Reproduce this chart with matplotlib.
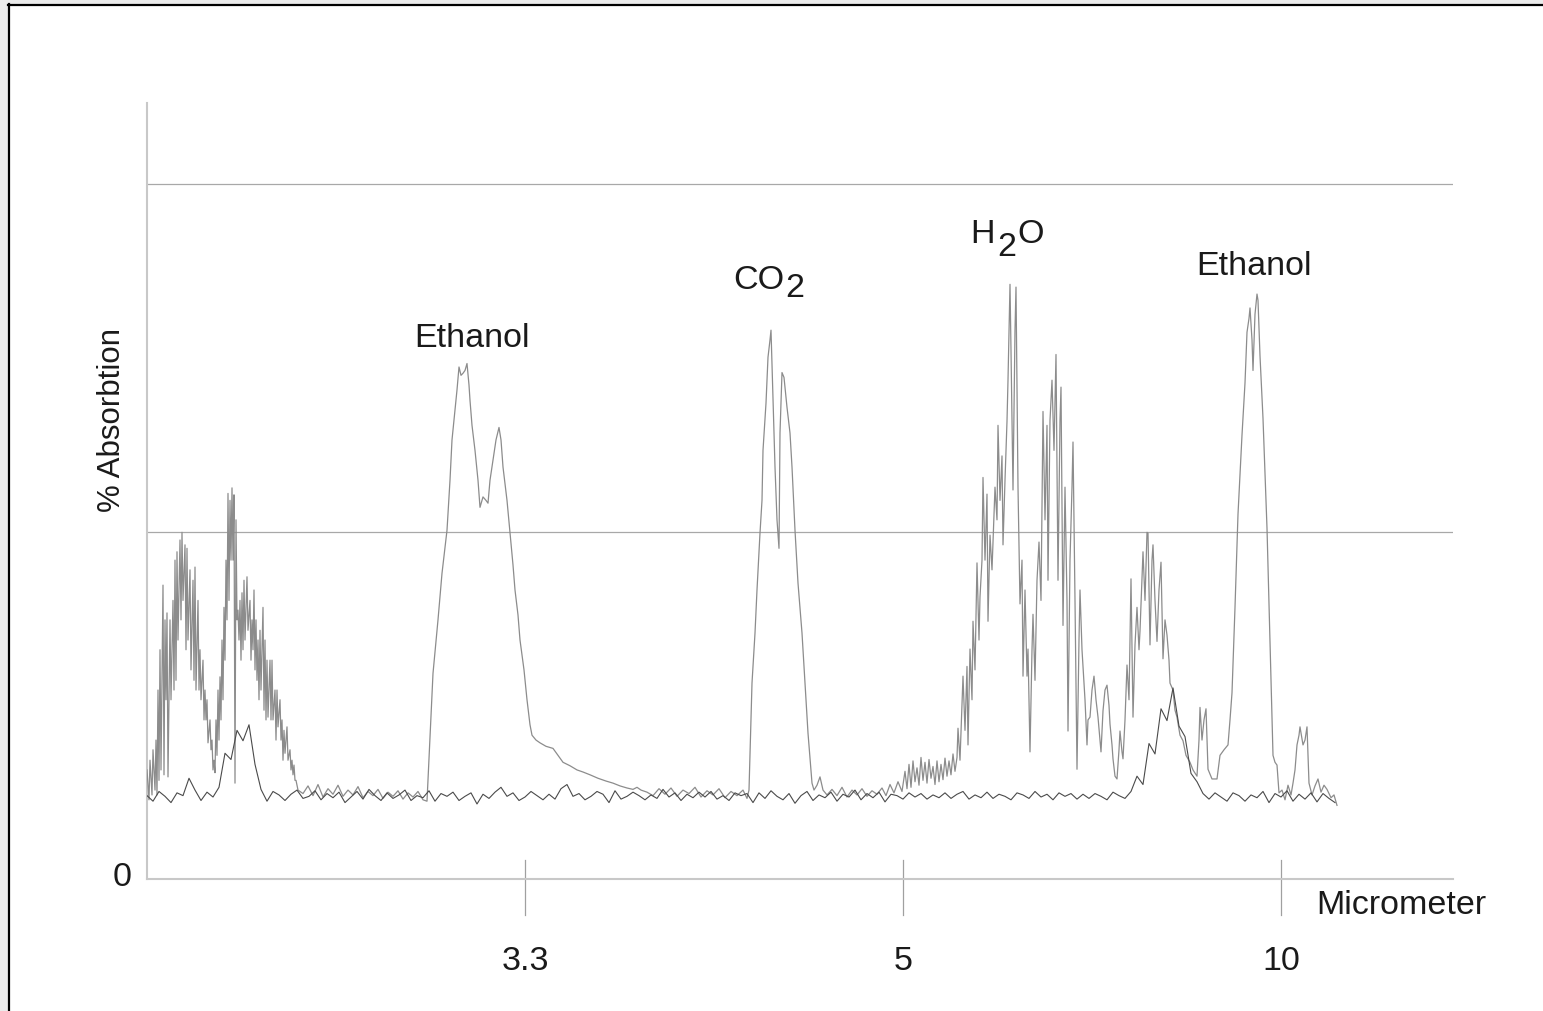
import matplotlib
matplotlib.use("Agg")
import matplotlib.pyplot as plt
from matplotlib.patches import Rectangle
from matplotlib.lines import Line2D
import matplotlib.transforms as mtransforms

plt.rcParams['font.family'] = ['Liberation Sans', 'DejaVu Sans']

# ---------------- data ----------------
# x axis: detector channel (0 .. 1306); wavelength labels at three channels
tick_channels = [378, 756, 1134]
tick_labels = ['3.3', '5', '10']
x_max = 1306
y_max = 111.7          # % absorption at top of the axis
grid_levels = [50, 100]

# background (reference) spectrum, one value every 6 channels
background_values = [
    12.0, 11.2, 12.6, 11.9, 11.0, 12.4, 12.0, 14.5, 12.8, 11.3,
    12.5, 11.8, 13.2, 18.1, 17.2, 21.4, 19.9, 22.2, 16.5, 12.9,
    11.2, 12.6, 12.1, 11.3, 12.2, 12.8, 11.6, 11.9, 12.7, 11.4,
    12.3, 11.7, 12.5, 11.0, 11.8, 12.6, 11.5, 12.9, 12.0, 11.3,
    12.4, 11.6, 12.1, 12.8, 11.3, 12.0, 11.7, 12.7, 11.2, 12.3,
    11.9, 12.5, 11.3, 11.9, 12.4, 10.8, 12.2, 11.6, 12.5, 13.2,
    11.9, 12.4, 11.3, 11.8, 12.6, 12.0, 11.4, 12.2, 11.5, 13.0,
    13.6, 11.9, 12.3, 11.4, 11.9, 12.6, 12.2, 11.0, 12.7, 11.5,
    11.9, 12.5, 12.0, 11.4, 12.1, 11.6, 12.9, 11.8, 12.4, 11.3,
    12.2, 11.7, 12.5, 11.8, 12.6, 11.5, 12.0, 11.3, 12.4, 12.0,
    12.3, 11.0, 12.4, 11.6, 12.7, 11.9, 11.4, 12.3, 10.9, 12.0,
    12.6, 11.3, 12.1, 11.7, 12.5, 11.2, 12.2, 11.8, 12.8, 11.4,
    12.3, 11.7, 12.5, 11.1, 12.2, 12.0, 11.5, 12.4, 11.8, 12.3,
    11.5, 12.1, 11.7, 12.4, 11.6, 12.2, 12.6, 11.5, 12.1, 11.7,
    12.5, 11.6, 12.2, 11.9, 11.4, 12.4, 12.1, 11.6, 12.6, 11.8,
    12.2, 11.4, 12.4, 11.9, 12.3, 11.5, 12.2, 11.6, 12.3, 11.9,
    11.4, 12.5, 12.0, 11.6, 12.6, 14.8, 13.6, 19.5, 18.0, 24.5,
    22.8, 27.5, 22.0, 20.5, 15.2, 14.0, 12.3, 11.5, 12.4, 11.8,
    11.2, 12.4, 12.0, 11.2, 12.1, 11.7, 12.6, 11.0, 12.3, 11.8,
    12.7, 11.2, 12.2, 11.5, 12.4, 11.1, 12.3, 11.6, 11.0,
]
background_step = 6

# sample spectrum, (channel, % absorption) by region
sample_left_band = [
    (0, 15.7), (2, 11.4), (3, 17.1), (5, 12.1), (6, 18.6), (8, 12.8), (9, 20.0),
    (10, 12.1), (11, 27.2), (12, 14.2), (13, 33.0), (14, 15.7), (16, 42.3),
    (17, 15.0), (18, 37.3), (19, 25.8), (20, 38.3), (21, 14.7), (23, 37.3),
    (24, 25.8), (26, 40.1), (27, 27.2), (28, 45.9), (29, 28.6), (30, 47.1),
    (31, 34.4), (33, 48.8), (34, 37.3), (35, 49.9), (36, 40.1), (38, 48.1),
    (39, 33.0), (40, 47.6), (41, 34.4), (43, 44.5), (44, 30.1), (46, 43.0),
    (47, 28.6), (48, 44.9), (49, 27.2), (51, 40.1), (52, 27.2), (53, 33.0),
    (54, 25.8), (56, 31.5), (57, 22.9), (58, 27.2), (59, 22.9), (60, 25.8),
    (61, 19.6), (63, 22.9), (64, 18.6), (65, 20.0), (66, 15.7), (67, 17.1),
    (68, 15.3), (69, 22.9), (70, 17.8), (71, 27.2), (72, 20.0), (73, 29.1),
    (74, 22.9), (75, 34.4), (76, 25.8), (77, 39.1), (78, 31.5), (79, 45.9),
    (80, 37.3), (81, 55.5), (82, 40.1), (83, 54.5), (84, 45.9), (85, 56.3),
    (86, 45.9), (87, 55.3), (88, 13.8), (89, 51.7), (90, 37.3), (91, 38.7),
    (92, 34.4), (93, 40.1), (94, 31.5), (95, 41.2), (96, 33.0), (97, 43.0),
    (98, 34.4), (100, 43.5), (101, 35.8), (103, 40.1), (104, 31.5), (105, 37.3),
    (106, 33.0), (107, 41.6), (108, 30.1), (109, 37.3), (110, 28.6), (111, 34.4),
    (112, 25.8), (113, 35.8), (114, 27.2), (116, 39.1), (117, 24.3), (118, 34.4),
    (119, 22.9), (120, 31.5), (121, 23.3), (123, 31.5), (124, 22.9), (125, 31.5),
    (126, 22.9), (128, 27.2), (129, 20.0), (130, 27.2), (131, 21.9), (133, 25.8),
    (134, 20.0), (135, 22.9), (136, 17.1), (137, 21.4), (138, 18.1), (140, 21.9),
    (141, 17.1), (143, 18.6), (144, 15.7), (145, 17.1), (146, 15.0), (147, 16.4),
    (148, 14.2), (149, 14.2), (151, 12.8),
]
sample_flat_1 = [
    (156, 12.3), (161, 13.4), (166, 12.0), (171, 13.6), (176, 11.8), (181, 13.0),
    (186, 12.2), (191, 13.5), (196, 11.9), (201, 12.8), (206, 12.1), (211, 13.3),
    (216, 11.7), (221, 12.6), (226, 12.0), (231, 12.9), (236, 11.6), (241, 12.5),
    (246, 11.9), (251, 12.7), (256, 11.5), (261, 12.4), (266, 11.8), (271, 12.6),
    (276, 11.4), (280, 11.2),
]
sample_ethanol_1 = [
    (286, 29.6), (291, 37.3), (295, 44.0), (300, 50.2), (303, 57.4), (305, 63.2),
    (308, 67.5), (310, 70.4), (312, 73.7), (314, 72.5), (316, 72.8), (318, 73.2),
    (320, 74.2), (322, 71.1), (323, 68.9), (325, 65.3), (328, 61.7), (331, 57.4),
    (333, 53.5), (335, 54.5), (336, 55.0), (339, 54.5), (341, 54.1), (343, 57.4),
    (346, 60.3), (349, 63.2), (352, 65.0), (354, 63.2), (356, 59.3), (360, 54.5),
    (363, 49.8), (366, 45.2), (368, 41.6), (371, 38.0), (373, 34.4), (377, 30.1),
    (380, 25.8), (383, 22.2), (385, 20.7), (389, 20.0), (393, 19.6), (399, 19.1),
    (406, 18.8), (411, 17.8), (416, 16.8), (423, 16.3), (430, 15.7), (436, 15.4),
    (443, 15.0), (451, 14.5), (459, 14.1), (466, 13.8), (473, 13.4), (480, 13.1),
    (486, 12.9), (490, 13.2), (494, 12.8), (500, 12.5),
]
sample_flat_2 = [
    (506, 12.0), (512, 13.0), (518, 12.2), (524, 13.1), (530, 11.9), (536, 12.8),
    (542, 12.3), (548, 13.2), (554, 11.8), (560, 12.7), (566, 12.1), (572, 13.0),
    (578, 11.7), (584, 12.6), (590, 12.0), (596, 12.8), (600, 11.6),
]
sample_co2 = [
    (602, 12.8), (605, 28.2), (608, 35.4), (610, 41.6), (613, 49.8), (615, 54.5),
    (616, 61.7), (619, 68.5), (621, 75.1), (623, 77.6), (624, 79.0), (626, 68.9),
    (628, 59.3), (630, 51.7), (632, 47.6), (633, 64.2), (635, 72.9), (637, 72.2),
    (640, 67.9), (643, 64.2), (645, 59.3), (648, 50.2), (651, 42.6), (655, 35.4),
    (658, 28.2), (661, 21.0), (665, 13.8), (667, 12.8), (670, 13.5), (673, 14.7),
    (676, 12.8), (680, 12.1),
]
sample_flat_3 = [
    (685, 12.9), (690, 12.0), (695, 13.2), (700, 11.8), (705, 12.8), (710, 12.1),
    (715, 13.0), (720, 11.9), (725, 12.7), (730, 12.2), (735, 13.1), (739, 12.0),
    (743, 13.6), (747, 12.4), (751, 14.0), (755, 12.6), (758, 15.5), (760, 13.0),
    (762, 16.5), (764, 13.2), (766, 17.0), (768, 14.0), (770, 16.0), (772, 13.5),
    (774, 17.5), (776, 14.2), (778, 16.8), (780, 13.8), (782, 17.2), (784, 14.5),
    (786, 16.2), (788, 13.6), (790, 17.0), (792, 14.0), (794, 16.5), (796, 14.3),
    (798, 17.4), (800, 14.8), (802, 17.0), (804, 15.0), (806, 18.0), (808, 15.5),
    (810, 17.5),
]
sample_h2o = [
    (811, 21.7), (813, 17.1), (816, 29.2), (818, 21.4), (820, 30.6), (821, 19.3),
    (823, 33.1), (825, 25.8), (826, 37.1), (828, 30.1), (830, 45.5), (832, 34.4),
    (833, 40.6), (835, 45.9), (836, 57.8), (838, 45.9), (840, 55.4), (841, 37.1),
    (843, 49.5), (845, 44.5), (848, 56.4), (850, 51.7), (851, 65.3), (853, 54.5),
    (855, 60.9), (856, 48.1), (858, 57.4), (860, 65.9), (861, 71.8), (863, 85.6),
    (864, 76.1), (866, 56.0), (868, 79.0), (869, 85.2), (871, 56.4), (873, 39.6),
    (875, 45.9), (876, 29.2), (878, 41.6), (880, 29.2), (881, 33.1), (883, 18.3),
    (885, 33.0), (886, 38.1), (888, 28.6), (890, 43.0), (892, 48.5), (894, 40.1),
    (896, 67.3), (898, 51.7), (900, 65.3), (901, 43.0), (903, 66.0), (905, 71.8),
    (907, 61.7), (909, 75.5), (911, 43.0), (913, 66.0), (914, 70.8), (916, 36.5),
    (918, 56.4), (920, 40.1), (921, 21.3), (923, 45.9), (925, 56.4), (926, 62.9),
    (928, 40.1), (930, 15.8), (932, 34.4), (933, 41.6), (935, 33.0), (936, 30.6),
    (938, 25.8), (940, 19.3), (941, 22.9), (943, 23.3), (945, 27.2), (947, 29.2),
    (949, 25.8), (951, 23.3), (953, 20.0), (954, 18.3), (956, 24.2), (958, 27.2),
    (960, 27.9), (962, 25.0), (963, 22.3), (965, 19.3), (966, 17.3), (968, 14.8),
    (970, 14.4), (972, 18.6), (973, 21.3), (975, 18.3), (976, 17.3), (978, 22.9),
    (980, 30.8), (982, 25.8), (984, 43.2), (986, 23.3), (988, 33.7), (990, 39.1),
    (992, 33.0), (993, 35.7), (995, 43.2), (996, 47.1), (998, 40.1), (1000, 49.9),
    (1001, 49.8), (1003, 33.7), (1005, 45.9), (1006, 48.1), (1008, 40.1),
    (1010, 34.2), (1012, 41.6), (1014, 45.6), (1016, 31.7), (1018, 37.3),
    (1020, 35.1), (1022, 31.5), (1023, 28.2), (1026, 27.2), (1028, 24.3),
    (1030, 23.3), (1033, 20.7), (1036, 19.9), (1039, 17.8), (1043, 16.8),
    (1046, 15.7), (1050, 14.8),
]
sample_ethanol_2 = [
    (1052, 20.0), (1053, 24.7), (1055, 20.0), (1057, 22.9), (1059, 24.5),
    (1061, 15.8), (1065, 14.4), (1070, 14.4), (1073, 17.8), (1077, 18.6),
    (1081, 19.3), (1083, 22.9), (1085, 26.8), (1088, 39.1), (1091, 52.5),
    (1095, 63.9), (1098, 71.4), (1100, 78.7), (1102, 80.7), (1103, 82.2),
    (1105, 77.6), (1106, 73.2), (1108, 81.3), (1110, 84.2), (1111, 83.3),
    (1113, 75.3), (1116, 66.3), (1120, 50.5), (1123, 34.2), (1126, 17.8),
    (1128, 16.8), (1130, 16.4), (1132, 12.4), (1135, 12.8), (1138, 11.4),
    (1141, 13.5), (1144, 12.1), (1146, 13.8), (1148, 15.7), (1150, 19.3),
    (1152, 20.7), (1153, 21.9), (1156, 19.3), (1158, 20.0), (1160, 21.9),
    (1162, 13.8), (1165, 12.1), (1168, 13.4), (1171, 14.4), (1174, 12.5),
    (1177, 13.5), (1180, 12.9), (1184, 11.7), (1187, 12.1), (1190, 10.6),
]

peak_labels = [
    ('Ethanol', 325, 77.8),
    ('Ethanol', 1107, 88.2),
]

# ---------------- figure ----------------
W, H = 1543, 1011
fig = plt.figure(figsize=(W / 100, H / 100), dpi=100)
fig.patch.set_facecolor('white')

# outer frame (light gray margin + black border on left and top)
fig.patches.append(Rectangle((0, 0), 8 / W, 1, transform=fig.transFigure,
                             facecolor='#ebebeb', edgecolor='none', zorder=0))
fig.patches.append(Rectangle((0, 1 - 4 / H), 1, 4 / H, transform=fig.transFigure,
                             facecolor='#ebebeb', edgecolor='none', zorder=0))
fig.lines.append(Line2D([8.5 / W, 8.5 / W], [0, 1 - 4 / H], transform=fig.transFigure,
                        color='black', linewidth=1.6))
fig.lines.append(Line2D([8 / W, 1], [1 - 4.5 / H, 1 - 4.5 / H], transform=fig.transFigure,
                        color='black', linewidth=1.6))

ax = fig.add_axes([147 / W, (H - 879) / H, 1306 / W, 776 / H])
ax.set_facecolor('white')
ax.set_xlim(0, x_max)
ax.set_ylim(0, y_max)

for s in ['top', 'right']:
    ax.spines[s].set_visible(False)
for s in ['left', 'bottom']:
    ax.spines[s].set_color('#c8c8c8')
    ax.spines[s].set_linewidth(1.5)

# grid lines
for g in grid_levels:
    ax.axhline(g, color='#a8a8a8', linewidth=0.9, zorder=1)

# spectra
def unzip(points):
    return [p[0] for p in points], [p[1] for p in points]

sample_points = (sample_left_band + sample_flat_1 + sample_ethanol_1 + sample_flat_2
                 + sample_co2 + sample_flat_3 + sample_h2o + sample_ethanol_2)
sx, sy = unzip(sample_points)
ax.plot(sx, sy, color='#8c8c8c', linewidth=0.9, zorder=3)

bx = list(range(0, background_step * len(background_values), background_step))
ax.plot(bx, background_values, color='#4a4a4a', linewidth=0.8, zorder=4)

# ticks
ax.set_xticks(tick_channels, tick_labels)
ax.tick_params(axis='x', length=0, pad=48, labelsize=24.5, labelcolor='#1a1a1a')
ax.set_yticks([0], ['0'])
ax.tick_params(axis='y', length=0, pad=11, labelsize=24.5, labelcolor='#1a1a1a')
for lab in ax.get_yticklabels():
    lab.set_transform(lab.get_transform()
                      + mtransforms.ScaledTranslation(0, 5 / 100, fig.dpi_scale_trans))
trans = mtransforms.blended_transform_factory(ax.transData, ax.transAxes)
for c in tick_channels:
    ax.plot([c, c], [-36 / 776, 19 / 776], transform=trans, color='#a0a0a0',
            linewidth=0.9, clip_on=False, zorder=2)

# axis titles
ax.text(-35 / 1306, 0.5915, '% Absorbtion', transform=ax.transAxes, rotation=90,
        ha='center', va='center', fontsize=22.5, color='#1a1a1a')
ax.text(0.9602, -27 / 776, 'Micrometer', transform=ax.transAxes,
        ha='center', va='center', fontsize=24.5, color='#1a1a1a')

# peak labels
fs = 24.5
for txt, cx, cy in peak_labels:
    ax.text(cx, cy, txt, ha='center', va='center', fontsize=fs, color='#1a1a1a')

# CO2 (subscript drawn as lowered full-size digit, as in the original)
ax.text(637, 86.2, 'CO', ha='right', va='center', fontsize=fs, color='#1a1a1a')
ax.text(638, 85.0, '2', ha='left', va='center', fontsize=fs, color='#1a1a1a')
# H2O
ax.text(848, 92.7, 'H', ha='right', va='center', fontsize=fs, color='#1a1a1a')
ax.text(860, 90.9, '2', ha='center', va='center', fontsize=fs, color='#1a1a1a')
ax.text(870, 92.7, 'O', ha='left', va='center', fontsize=fs, color='#1a1a1a')

fig.savefig('out.png', dpi=100, facecolor=fig.get_facecolor())
